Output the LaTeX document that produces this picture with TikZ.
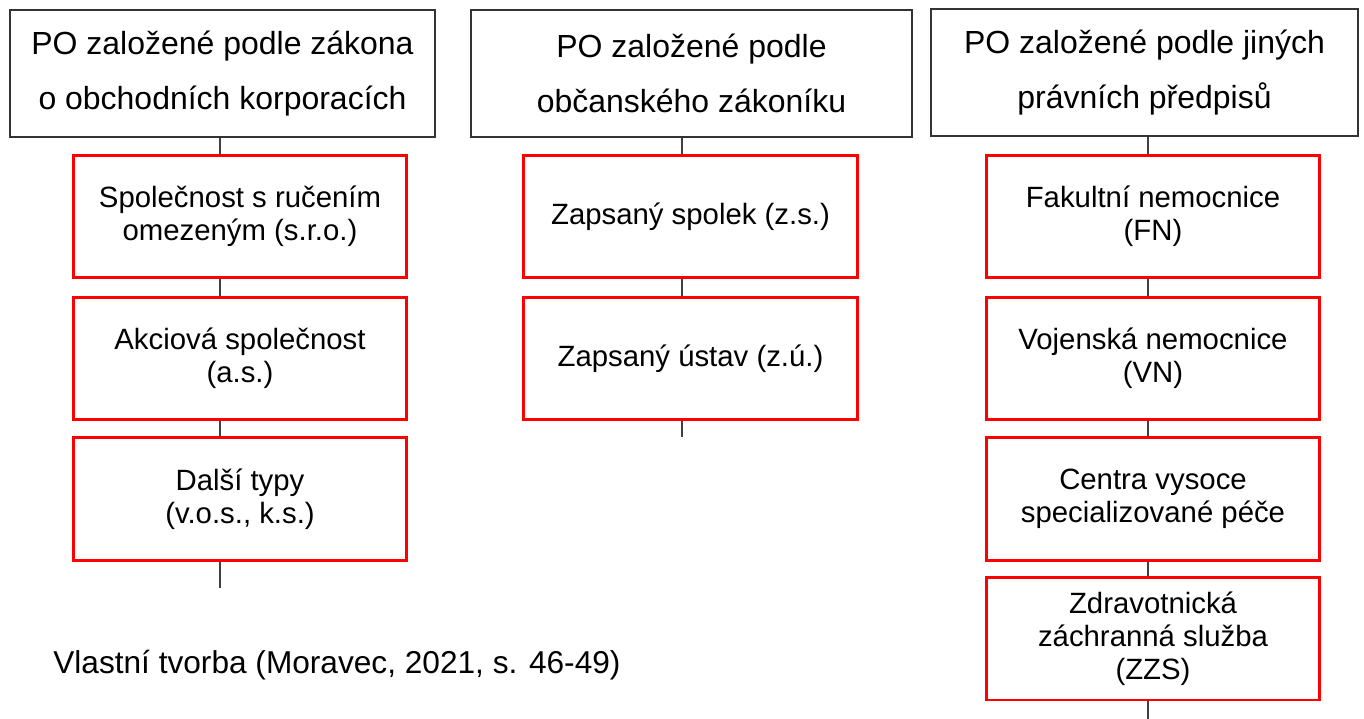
\documentclass[tikz,border=0pt]{standalone}
\usepackage{fontspec}
\setmainfont{Liberation Sans}
\begin{document}
\begin{tikzpicture}
    [x=0.02cm,y=-0.02cm,
     head/.style={draw=black!80, line width=0.9pt, align=center, inner sep=0pt,
       minimum height=2.54cm, font=\fontsize{18.2}{31}\selectfont},
     kind/.style={draw=red, line width=1.7pt, align=center, inner sep=0pt,
       minimum width=6.68cm, minimum height=2.46cm, font=\fontsize{16.7}{18.8}\selectfont},
     conn/.style={draw=black!75, line width=0.9pt}]
  \useasboundingbox (0,0) rectangle (1364,719);

  \node[head, minimum width=8.5cm] (h1) at (222.5,73.5) {PO založené podle zákona\\o obchodních korporacích};
  \node[head, minimum width=8.82cm] (h2) at (691.5,73.5) {PO založené podle\\občanského zákoníku};
  \node[head, minimum width=8.54cm] (h3) at (1144.5,72.5) {PO založené podle jiných\\právních předpisů};

  \node[kind] (a1) at (240,216.5) {Společnost s ručením\\omezeným (s.r.o.)};
  \node[kind] (a2) at (240,358.5) {Akciová společnost\\(a.s.)};
  \node[kind] (a3) at (240,499) {Další typy\\(v.o.s., k.s.)};

  \node[kind] (b1) at (690.5,216.5) {Zapsaný spolek (z.s.)};
  \node[kind] (b2) at (690.5,358.5) {Zapsaný ústav (z.ú.)};

  \node[kind] (c1) at (1153,216.5) {Fakultní nemocnice\\(FN)};
  \node[kind] (c2) at (1153,358.5) {Vojenská nemocnice\\(VN)};
  \node[kind] (c3) at (1153,499) {Centra vysoce\\specializované péče};
  \node[kind] (c4) at (1153,638.5) {Zdravotnická\\záchranná služba\\(ZZS)};

  \coordinate (t1) at (220,588);
  \coordinate (t2) at (682,437);
  \coordinate (t3) at (1148,719);

  \foreach \from/\to/\s in {h1/a1/t1, a1/a2/t1, a2/a3/t1, h2/b1/t2, b1/b2/t2,
                            h3/c1/t3, c1/c2/t3, c2/c3/t3, c3/c4/t3}
    \draw[conn] (\from.south -| \s) -- (\to.north -| \s);
  \draw[conn] (a3.south -| t1) -- (t1);
  \draw[conn] (b2.south -| t2) -- (t2);
  \draw[conn] (c4.south -| t3) -- (t3);

  \node[anchor=base west, inner sep=0pt, font=\fontsize{18}{22}\selectfont] (src) at (53,673)
    {Vlastní tvorba (Moravec, 2021, s. 46-49)};
\end{tikzpicture}
\end{document}
